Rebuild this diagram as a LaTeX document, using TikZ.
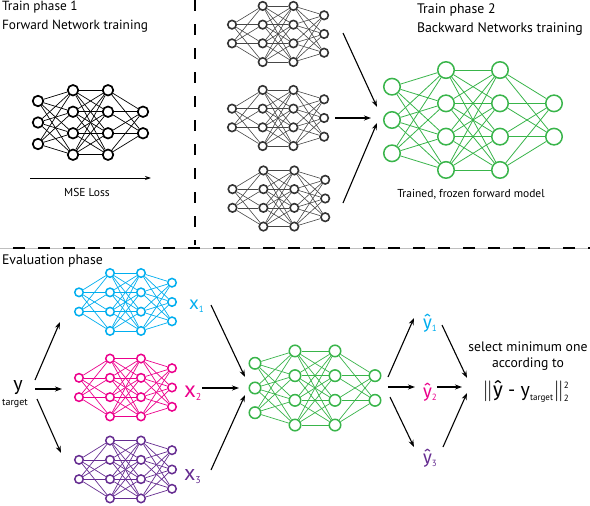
\documentclass[tikz,border=0pt]{standalone}
\usepackage{fontspec}
\usepackage{amsmath}
\setmainfont{PT Sans}
\newfontfamily\hatf{Fira Sans}
\usetikzlibrary{arrows.meta}
\definecolor{cy}{HTML}{00AEEF}
\definecolor{mg}{HTML}{EC008C}
\definecolor{pu}{HTML}{662D91}
\definecolor{gn}{HTML}{39B54A}
\definecolor{dg}{HTML}{333333}

% prefix, layer, x, n, y0, spacing
\newcommand\mklayer[6]{\foreach \ii in {1,...,#4} {\node[netnode] (#1-#2-\ii) at ({#3},{#5+(\ii-(#4+1)/2)*#6}) {};}}
% prefix, l1, n1, l2, n2
\newcommand\mkconn[5]{\foreach \nA in {1,...,#3} {\foreach \nB in {1,...,#5} {\draw[netedge] (#1-#2-\nA) -- (#1-#4-\nB);}}}
% prefix, x1, dx, y0, s
\newcommand\fwdnet[5]{%
 \mklayer{#1}{1}{#2}{3}{#4}{#5}%
 \mklayer{#1}{2}{#2+#3}{4}{#4}{#5}%
 \mklayer{#1}{3}{#2+2*#3}{4}{#4}{#5}%
 \mklayer{#1}{4}{#2+3*#3}{2}{#4}{#5}%
 \mkconn{#1}{1}{3}{2}{4}\mkconn{#1}{2}{4}{3}{4}\mkconn{#1}{3}{4}{4}{2}}
\newcommand\bwdnet[5]{%
 \mklayer{#1}{1}{#2}{2}{#4}{#5}%
 \mklayer{#1}{2}{#2+#3}{4}{#4}{#5}%
 \mklayer{#1}{3}{#2+2*#3}{4}{#4}{#5}%
 \mklayer{#1}{4}{#2+3*#3}{3}{#4}{#5}%
 \mkconn{#1}{1}{2}{2}{4}\mkconn{#1}{2}{4}{3}{4}\mkconn{#1}{3}{4}{4}{3}}

\begin{document}
\begin{tikzpicture}[x=1pt,y=-1pt,
  arr/.style={-{Stealth[length=7pt,width=5pt]}, line width=1.1pt, black},
  lbl/.style={inner sep=0pt, outer sep=0pt}]
\useasboundingbox (0,0) rectangle (590,506);
\fill[white] (0,0) rectangle (590,506);

% separators
\draw[line width=2pt, dash pattern=on 11pt off 13pt] (195,0) -- (195,245);
\draw[gray!50, line width=0.6pt] (0,248) -- (590,248);
\draw[line width=2pt, dash pattern=on 12pt off 13pt] (-12,248) -- (600,248);

% ---------- Train phase 1
\node[lbl, anchor=north west, align=left, font=\fontsize{13.3}{19}\selectfont] (t1) at (2,1.5) {Train phase 1\\Forward Network training};
\begin{scope}[netnode/.style={circle,draw=black,line width=1.7pt,minimum size=10.5pt,inner sep=0pt},
              netedge/.style={black,line width=0.7pt}]
\fwdnet{fa}{38}{35}{122.5}{21.5}
\end{scope}
\coordinate (mse1) at (30,178);
\coordinate (mse2) at (151,178);
\draw[-{Stealth[length=6pt,width=4pt]}, line width=0.9pt] (mse1) -- (mse2);
\node[lbl, font=\fontsize{11.5}{13}\selectfont] (mse) at (87,192) {MSE Loss};

% ---------- Train phase 2
\begin{scope}[netnode/.style={circle,draw=dg,line width=1.6pt,minimum size=8.5pt,inner sep=0pt},
              netedge/.style={dg!90,line width=0.6pt}]
\bwdnet{ba}{232}{30.7}{34}{18.7}
\bwdnet{bb}{232}{30.7}{118}{18.7}
\bwdnet{bc}{232.5}{30.9}{198.5}{18.7}
\end{scope}
\node[lbl, anchor=north west, align=left, font=\fontsize{13.8}{19}\selectfont] (t2) at (417,4) {Train phase 2\\Backward Networks training};
\begin{scope}[netnode/.style={circle,draw=gn,line width=1.5pt,minimum size=16.5pt,inner sep=0pt},
              netedge/.style={gn,line width=0.8pt}]
\fwdnet{ga}{392}{54}{120}{33.3}
\end{scope}
\node[lbl, font=\fontsize{11.5}{13}\selectfont] (frozen) at (471,194) {Trained, frozen forward model};
\coordinate (p1s) at (343,33);  \coordinate (p1e) at (377,107);
\coordinate (p2s) at (335,118); \coordinate (p2e) at (371,118);
\coordinate (p3s) at (343,203); \coordinate (p3e) at (377,123);
\draw[arr] (p1s) -- (p1e);
\draw[arr] (p2s) -- (p2e);
\draw[arr] (p3s) -- (p3e);

% ---------- Evaluation phase
\node[lbl, anchor=base west, font=\fontsize{13.8}{15}\selectfont] (t3) at (2,264) {Evaluation phase};
\begin{scope}[netnode/.style={circle,draw=cy,line width=1.5pt,minimum size=8.5pt,inner sep=0pt},
              netedge/.style={cy,line width=0.7pt}]
\bwdnet{cn}{79}{31}{302}{19.3}
\end{scope}
\begin{scope}[netnode/.style={circle,draw=mg,line width=1.5pt,minimum size=8.5pt,inner sep=0pt},
              netedge/.style={mg,line width=0.7pt}]
\bwdnet{mn}{79}{31}{387.5}{19.3}
\end{scope}
\begin{scope}[netnode/.style={circle,draw=pu,line width=1.5pt,minimum size=8.5pt,inner sep=0pt},
              netedge/.style={pu,line width=0.7pt}]
\bwdnet{pn}{79}{31}{469.5}{19.3}
\end{scope}
\begin{scope}[netnode/.style={circle,draw=gn,line width=1.5pt,minimum size=11.5pt,inner sep=0pt},
              netedge/.style={gn,line width=0.7pt}]
\fwdnet{gb}{255}{40}{388}{24.7}
\end{scope}

% y target
\node[lbl, anchor=base, font=\fontsize{20}{20}\selectfont] (ytg) at (18,390) {y};
\node[lbl, anchor=base, font=\fontsize{10}{11}\selectfont] (ytgs) at (15,405) {target};
\coordinate (y1s) at (35,380); \coordinate (y1e) at (60,322);
\coordinate (y2s) at (35,389); \coordinate (y2e) at (62,389);
\coordinate (y3s) at (37,399); \coordinate (y3e) at (61,453);
\draw[arr] (y1s) -- (y1e);
\draw[arr] (y2s) -- (y2e);
\draw[arr] (y3s) -- (y3e);

% x labels
\node[lbl, anchor=base west, text=cy] (x1) at (189,309) {\fontsize{19}{19}\selectfont x\raisebox{-3pt}{\fontsize{9}{9}\selectfont 1}};
\node[lbl, anchor=base west, text=mg] (x2) at (184,397) {\fontsize{23}{23}\selectfont x\raisebox{-3.5pt}{\fontsize{10}{10}\selectfont 2}};
\node[lbl, anchor=base west, text=pu] (x3) at (184,480) {\fontsize{22}{22}\selectfont x\raisebox{-3.5pt}{\fontsize{10}{10}\selectfont 3}};
\coordinate (x1s) at (211,305); \coordinate (x1e) at (245,377);
\coordinate (x2s) at (202,388); \coordinate (x2e) at (239,388);
\coordinate (x3s) at (211,470); \coordinate (x3e) at (245,395);
\draw[arr] (x1s) -- (x1e);
\draw[arr] (x2s) -- (x2e);
\draw[arr] (x3s) -- (x3e);

% y hat labels
\node[lbl, anchor=base west, text=cy] (yh1) at (423,328) {\fontsize{18}{18}\selectfont {\hatf ŷ}\raisebox{-3pt}{\fontsize{9}{9}\selectfont 1}};
\node[lbl, anchor=base west, text=mg] (yh2) at (423,397) {\fontsize{18}{18}\selectfont {\hatf ŷ}\raisebox{-3pt}{\fontsize{9}{9}\selectfont 2}};
\node[lbl, anchor=base west, text=pu] (yh3) at (423,463) {\fontsize{18}{18}\selectfont {\hatf ŷ}\raisebox{-3pt}{\fontsize{9}{9}\selectfont 3}};
\coordinate (o1s) at (388,377); \coordinate (o1e) at (414,318);
\coordinate (o2s) at (388,387); \coordinate (o2e) at (415,387);
\coordinate (o3s) at (390,397); \coordinate (o3e) at (414,447);
\draw[arr] (o1s) -- (o1e);
\draw[arr] (o2s) -- (o2e);
\draw[arr] (o3s) -- (o3e);

% selection
\coordinate (s1s) at (442,325); \coordinate (s1e) at (467,378);
\coordinate (s2s) at (437,387); \coordinate (s2e) at (462,387);
\coordinate (s3s) at (443,447); \coordinate (s3e) at (467,393);
\draw[arr] (s1s) -- (s1e);
\draw[arr] (s2s) -- (s2e);
\draw[arr] (s3s) -- (s3e);
\node[lbl, align=center, font=\fontsize{13.7}{15.5}\selectfont] (sel) at (528,356) {select minimum one\\according to};
\node[lbl, anchor=base] (frm) at (526,396) {\fontsize{20}{22}\selectfont $\|\text{{\hatf ŷ} - y}_{\mbox{\fontsize{9}{9}\selectfont target}}\|_{\mbox{\fontsize{9}{9}\selectfont 2}}^{\mbox{\fontsize{9}{9}\selectfont 2}}$};
\end{tikzpicture}
\end{document}
